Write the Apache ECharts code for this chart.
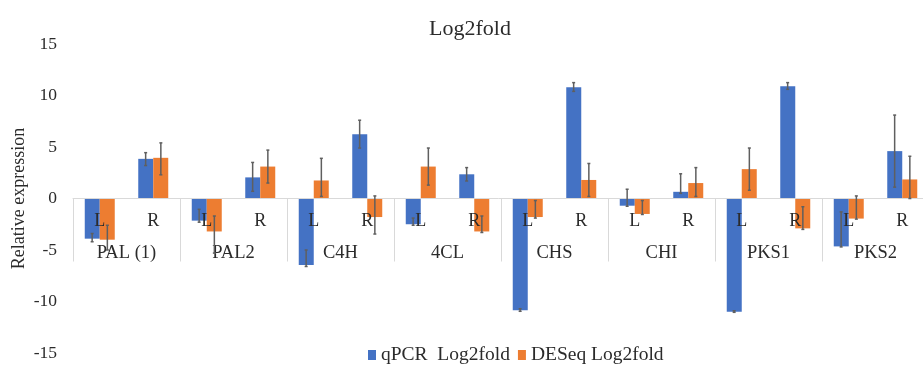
<!DOCTYPE html>
<html>
<head>
<meta charset="utf-8">
<script src="https://cdn.jsdelivr.net/npm/echarts@6/dist/echarts.min.js"></script>
<style>html,body{margin:0;padding:0;background:#fff}#c{width:923px;height:365px}</style>
</head>
<body>
<div id="c"></div>
<script>
var genes = ['PAL (1)', 'PAL2', 'C4H', '4CL', 'CHS', 'CHI', 'PKS1', 'PKS2'];
var tissues = ['L', 'R'];
var seriesNames = ['qPCR  Log2fold', 'DESeq Log2fold'];
var qpcr  = [-3.9, 3.85, -2.15, 2.05, -6.45, 6.25, -2.5, 2.35, -10.85, 10.8, -0.7, 0.65, -11.0, 10.9, -4.65, 4.6];
var deseq = [-4.0, 3.95, -3.2, 3.1, 1.75, -1.8, 3.1, -3.2, -1.8, 1.8, -1.5, 1.5, 2.85, -2.9, -1.95, 1.85];
var qpcrErrLo  = [-4.2, 3.2, -2.3, 0.7, -6.6, 4.9, -2.6, 1.7, -10.95, 10.4, -0.75, 0.5, -11.05, 10.6, -4.7, 1.1];
var qpcrErrHi  = [-3.4, 4.45, -1.05, 3.5, -5.0, 7.6, -1.9, 3.0, -10.7, 11.25, 0.9, 2.4, -10.9, 11.25, -1.3, 8.1];
var deseqErrLo = [-5.0, 2.3, -5.3, 1.5, 0.2, -3.45, 1.3, -3.3, -1.9, 0.2, -1.55, 0.2, 0.8, -3.0, -2.0, 0.0];
var deseqErrHi = [-2.6, 5.4, -1.7, 4.7, 3.9, 0.25, 4.9, -1.7, -0.2, 3.4, -0.2, 3.0, 4.9, -0.8, 0.25, 4.1];
var yTicks = [-15, -10, -5, 0, 5, 10, 15];

var FONT = 'Liberation Serif';
var TXT = '#2b2b2b';
var GRID_TOP = 44, GRID_BOTTOM = 12, H = 365;
var plotH = H - GRID_TOP - GRID_BOTTOM;
// distance from grid bottom up to the zero line (places the category axis at y=0)
var zeroOffset = -plotH * (0 - yTicks[0]) / (yTicks[yTicks.length - 1] - yTicks[0]);

var subCats = [];
genes.forEach(function () { tissues.forEach(function (t) { subCats.push(t); }); });

function errData(lo, hi) {
  return lo.map(function (v, i) { return [i, v, hi[i]]; });
}
function errRender(side) {
  return function (params, api) {
    var i = api.value(0);
    var x = api.coord([i, 0])[0] + side * 7.6;
    var yl = api.coord([i, api.value(1)])[1];
    var yh = api.coord([i, api.value(2)])[1];
    var st = { stroke: '#5f5f5f', lineWidth: 1.5 };
    return { type: 'group', children: [
      { type: 'line', shape: { x1: x, y1: yl, x2: x, y2: yh }, style: st },
      { type: 'line', shape: { x1: x - 1.5, y1: yl, x2: x + 1.5, y2: yl }, style: st },
      { type: 'line', shape: { x1: x - 1.5, y1: yh, x2: x + 1.5, y2: yh }, style: st }
    ]};
  };
}

var chart = echarts.init(document.getElementById('c'));
chart.setOption({
  animation: false,
  title: { text: 'Log2fold', left: 424, top: 13,
    textStyle: { fontFamily: FONT, fontSize: 22, fontWeight: 'normal', color: TXT } },
  legend: { data: seriesNames, left: 363, top: 340, icon: 'rect', itemWidth: 8, itemHeight: 10, itemGap: 8,
    textStyle: { fontFamily: FONT, fontSize: 19.5, color: TXT } },
  grid: { left: 73, right: -6, top: GRID_TOP, bottom: GRID_BOTTOM, containLabel: false, outerBoundsMode: 'none' },
  xAxis: [
    { type: 'category', data: subCats, position: 'bottom', offset: zeroOffset, z: 3,
      axisLine: { onZero: false, lineStyle: { color: '#d9d9d9', width: 1 } },
      axisTick: { show: false },
      axisLabel: { margin: 14, fontFamily: FONT, fontSize: 18, color: TXT } },
    { type: 'category', data: genes, position: 'bottom', offset: zeroOffset, z: 3,
      axisLine: { show: false, onZero: false },
      axisTick: { show: true, length: 63, lineStyle: { color: '#d9d9d9' }, interval: 0 },
      axisLabel: { margin: 45, fontFamily: FONT, fontSize: 18.5, color: TXT } }
  ],
  yAxis: { type: 'value', min: -15, max: 15, interval: 5,
    name: 'Relative expression', nameLocation: 'middle', nameGap: 45, nameMoveOverlap: false,
    nameTextStyle: { fontFamily: FONT, fontSize: 18, color: TXT },
    axisLine: { show: false }, axisTick: { show: false }, splitLine: { show: false },
    axisLabel: { margin: 16, fontFamily: FONT, fontSize: 17.5, color: TXT,
      formatter: function (v) { return yTicks.indexOf(v) >= 0 ? String(v) : ''; } } },
  series: [
    { name: seriesNames[0], type: 'bar', data: qpcr, barWidth: 15, barGap: '0%',
      itemStyle: { color: '#4472C4' } },
    { name: seriesNames[1], type: 'bar', data: deseq, barWidth: 15, barGap: '0%',
      itemStyle: { color: '#ED7D31' } },
    { name: 'errQ', type: 'custom', renderItem: errRender(-1), data: errData(qpcrErrLo, qpcrErrHi),
      encode: { x: 0, y: [1, 2] }, z: 10 },
    { name: 'errD', type: 'custom', renderItem: errRender(1), data: errData(deseqErrLo, deseqErrHi),
      encode: { x: 0, y: [1, 2] }, z: 10 }
  ]
});
</script>
</body>
</html>
